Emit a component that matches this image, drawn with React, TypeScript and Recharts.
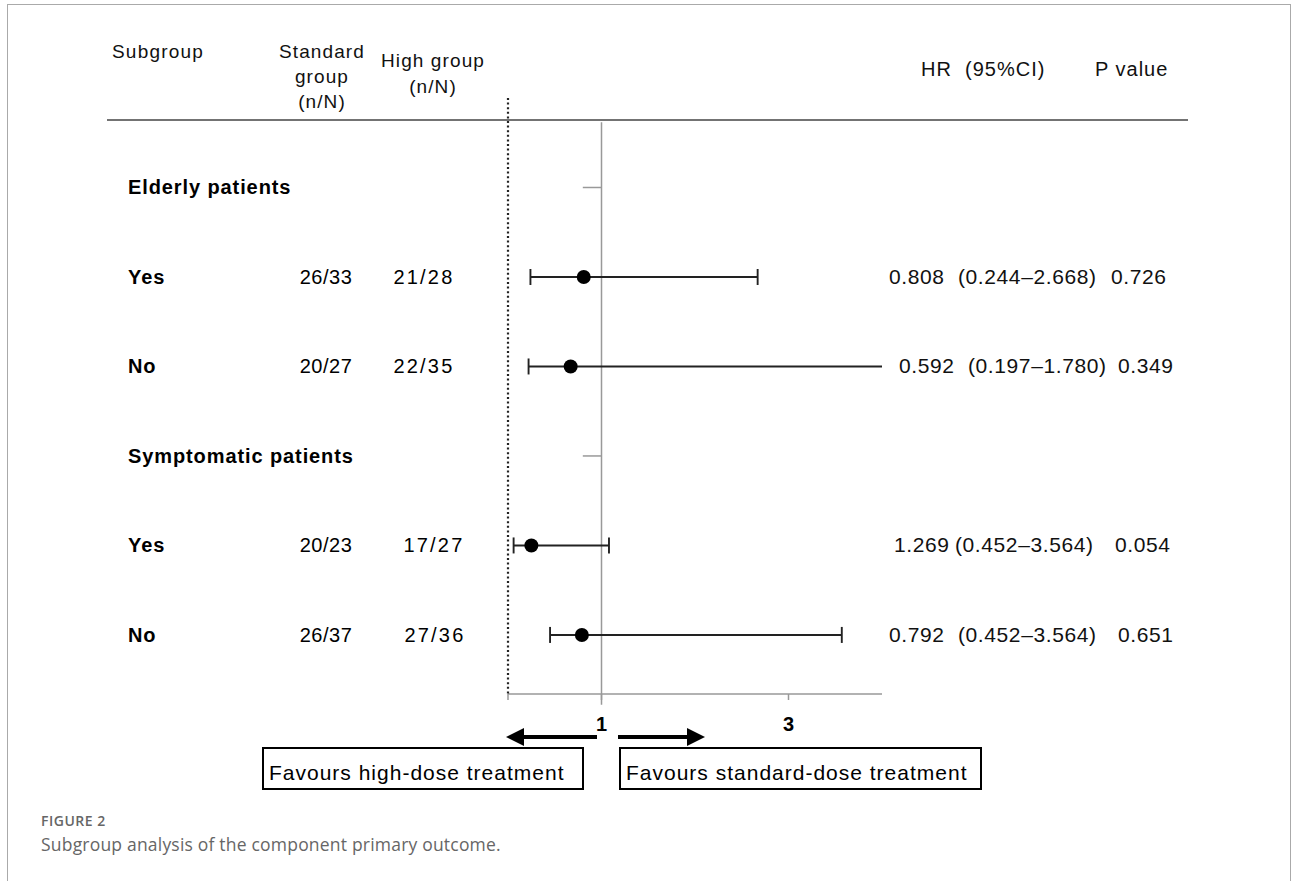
import React from 'react';
import { ScatterChart, Scatter, XAxis, YAxis, ReferenceLine } from 'recharts';

// table rows, top to bottom (rows 0 and 3 are group headers)
const rowLabels = ['Elderly patients', 'Yes', 'No', 'Symptomatic patients', 'Yes', 'No'];
const headerRows = [0, 3];
const standardGroup = ['', '26/33', '20/27', '', '20/23', '26/37'];
const highGroup = ['', '21/28', '22/35', '', '17/27', '27/36'];
const hrLabels = ['', '0.808', '0.592', '', '1.269', '0.792'];
const ciLabels = ['', '(0.244–2.668)', '(0.197–1.780)', '', '(0.452–3.564)', '(0.452–3.564)'];
const pLabels = ['', '0.726', '0.349', '', '0.054', '0.651'];

// marks as drawn on the plot (row index, HR, CI ends); row 2 runs off the axis end
const plotRows = [1, 2, 4, 5];
const pointEst = [0.81, 0.67, 0.25, 0.79];
const ciLow = [0.24, 0.22, 0.06, 0.45];
const ciHigh = [2.67, 4.4, 1.08, 3.57];
const xTicks = [0, 1, 3];
const rowTicks = [0, 1, 2, 3, 4, 5];

// column positions of the text table
const highColX = [0, 424, 424, 0, 434, 435];
const hrColX = [0, 889, 899, 0, 894, 889];
const ciColX = [0, 958, 968, 0, 955, 958];
const pColX = [0, 1111, 1118, 0, 1115, 1118];

const FONT = '"Liberation Sans", Arial, Helvetica, sans-serif';

const data = plotRows.map((row, i) => ({ row, hr: pointEst[i] }));

const LeftTick = (props: any) => {
  const i = props.payload.value;
  const y = props.y;
  const head = headerRows.includes(i);
  return (
    <g fontFamily={FONT} fill="#000">
      <text x={128} y={y} dy={7} fontSize={20} fontWeight={700} letterSpacing={0.9} fill="#000">
        {rowLabels[i]}
      </text>
      {!head && (
        <>
          <text x={326} y={y} dy={7} fontSize={20} letterSpacing={0.5} textAnchor="middle" fill="#000">
            {standardGroup[i]}
          </text>
          <text x={highColX[i]} y={y} dy={7} fontSize={20} letterSpacing={2.2} textAnchor="middle" fill="#000">
            {highGroup[i]}
          </text>
        </>
      )}
    </g>
  );
};

const RightTick = (props: any) => {
  const i = props.payload.value;
  const y = props.y;
  if (headerRows.includes(i)) return <g />;
  return (
    <g fontFamily={FONT} fontSize={21} letterSpacing={0.6} fill="#111">
      <text x={hrColX[i]} y={y} dy={7} fill="#111">{hrLabels[i]}</text>
      <text x={ciColX[i]} y={y} dy={7} fill="#111">{ciLabels[i]}</text>
      <text x={pColX[i]} y={y} dy={7} fill="#111">{pLabels[i]}</text>
    </g>
  );
};

const Dot = (p: any) => <circle cx={p.cx} cy={p.cy} r={7} fill="#000" />;

// CI whisker: line with end caps, clipped to the plot area
const CiShape = (p: any) => (
  <g clipPath={p.clipPath} stroke="#222" strokeWidth={1.9}>
    <line x1={p.x1} y1={p.y1} x2={p.x2} y2={p.y2} />
    <line x1={p.x1} y1={p.y1 - 8} x2={p.x1} y2={p.y1 + 8} />
    <line x1={p.x2} y1={p.y2 - 8} x2={p.x2} y2={p.y2 + 8} />
  </g>
);

export default function App() {
  return (
    <div style={{ position: 'absolute', left: 0, top: 0, width: 1293, height: 881, overflow: 'hidden', background: '#fff' }}>
      <div
        style={{
          position: 'absolute', left: 7, top: 4, width: 1284, height: 900,
          border: '1.5px solid #aaa', boxSizing: 'border-box',
        }}
      />
      <div style={{ position: 'absolute', left: 0, top: 0 }}>
        <ScatterChart width={1293} height={881} margin={{ top: 98, right: 0, bottom: 157, left: 0 }}>
          <XAxis
            type="number"
            dataKey="hr"
            domain={[0, 4]}
            ticks={xTicks}
            allowDataOverflow
            height={30}
            axisLine={{ stroke: '#999', strokeWidth: 1.5 }}
            tickLine={{ stroke: '#999', strokeWidth: 1.5 }}
            tickSize={6}
            tickMargin={17}
            tick={{ fill: '#000', fontSize: 20, fontWeight: 700, fontFamily: FONT }}
            tickFormatter={(v) => (v === 0 ? '' : String(v))}
          />
          <YAxis
            yAxisId="left"
            type="number"
            dataKey="row"
            domain={[-1, 5.66]}
            reversed
            allowDataOverflow
            ticks={rowTicks}
            interval={0}
            width={508}
            axisLine={{ stroke: '#222', strokeWidth: 2.2, strokeDasharray: '2 2.6' }}
            tickLine={false}
            tick={<LeftTick />}
          />
          <YAxis
            yAxisId="right"
            orientation="right"
            type="number"
            dataKey="row"
            domain={[-1, 5.66]}
            reversed
            allowDataOverflow
            ticks={rowTicks}
            interval={0}
            width={411}
            axisLine={false}
            tickLine={false}
            tick={<RightTick />}
          />
          <ReferenceLine
            yAxisId="left"
            segment={[{ x: 1, y: -0.73 }, { x: 1, y: 5.78 }]}
            stroke="#999"
            strokeWidth={1.5}
            ifOverflow="visible"
          />
          {headerRows.map((r) => (
            <ReferenceLine
              key={'h' + r}
              yAxisId="left"
              segment={[{ x: 0.8, y: r }, { x: 1, y: r }]}
              stroke="#999"
              strokeWidth={1.5}
              ifOverflow="visible"
            />
          ))}
          {plotRows.map((r, i) => (
            <ReferenceLine
              key={'ci' + r}
              yAxisId="left"
              segment={[{ x: ciLow[i], y: r }, { x: ciHigh[i], y: r }]}
              ifOverflow="hidden"
              shape={CiShape}
            />
          ))}
          <Scatter yAxisId="left" data={data} fill="#000" shape={Dot} isAnimationActive={false} />
        </ScatterChart>
      </div>

      <svg width={1293} height={881} style={{ position: 'absolute', left: 0, top: 0, pointerEvents: 'none' }}>
        <g fontFamily={FONT} fill="#111">
          <text x={112} y={58} fontSize={19} letterSpacing={1.2}>Subgroup</text>
          <text x={322} y={58} fontSize={19} letterSpacing={1.1} textAnchor="middle">Standard</text>
          <text x={322} y={83} fontSize={19} letterSpacing={1.1} textAnchor="middle">group</text>
          <text x={322} y={108} fontSize={19} letterSpacing={1.1} textAnchor="middle">(n/N)</text>
          <text x={433} y={67} fontSize={19} letterSpacing={1.1} textAnchor="middle">High group</text>
          <text x={433} y={93} fontSize={19} letterSpacing={1.1} textAnchor="middle">(n/N)</text>
          <text x={921} y={76} fontSize={20} letterSpacing={1} xmlSpace="preserve">HR  (95%CI)</text>
          <text x={1095} y={76} fontSize={20} letterSpacing={1}>P value</text>
        </g>
        <line x1={107} x2={1188} y1={120} y2={120} stroke="#444" strokeWidth={1.5} />

        <line x1={597} x2={520} y1={737} y2={737} stroke="#000" strokeWidth={4} />
        <polygon points="506,737 524,728 524,746" fill="#000" />
        <line x1={618} x2={690} y1={737} y2={737} stroke="#000" strokeWidth={4} />
        <polygon points="705,737 687,728 687,746" fill="#000" />

        <rect x={263} y={748} width={320} height={41} fill="none" stroke="#000" strokeWidth={2} />
        <rect x={620} y={748} width={361} height={41} fill="none" stroke="#000" strokeWidth={2} />
        <g fontFamily={FONT} fontSize={21} letterSpacing={1} fill="#000">
          <text x={269} y={780}>Favours high-dose treatment</text>
          <text x={626} y={780}>Favours standard-dose treatment</text>
        </g>
      </svg>

      <div
        style={{
          position: 'absolute', left: 41, top: 813, fontFamily: '"Open Sans", "Noto Sans", sans-serif',
          fontSize: 14, fontWeight: 600, color: '#666', letterSpacing: 0.5, lineHeight: '16px',
        }}
      >
        FIGURE 2
      </div>
      <div
        style={{
          position: 'absolute', left: 41, top: 833, fontFamily: '"Open Sans", "Noto Sans", sans-serif',
          fontSize: 17.5, color: '#666', lineHeight: '22px', letterSpacing: 0.2, whiteSpace: 'nowrap',
        }}
      >
        Subgroup analysis of the component primary outcome.
      </div>
    </div>
  );
}
